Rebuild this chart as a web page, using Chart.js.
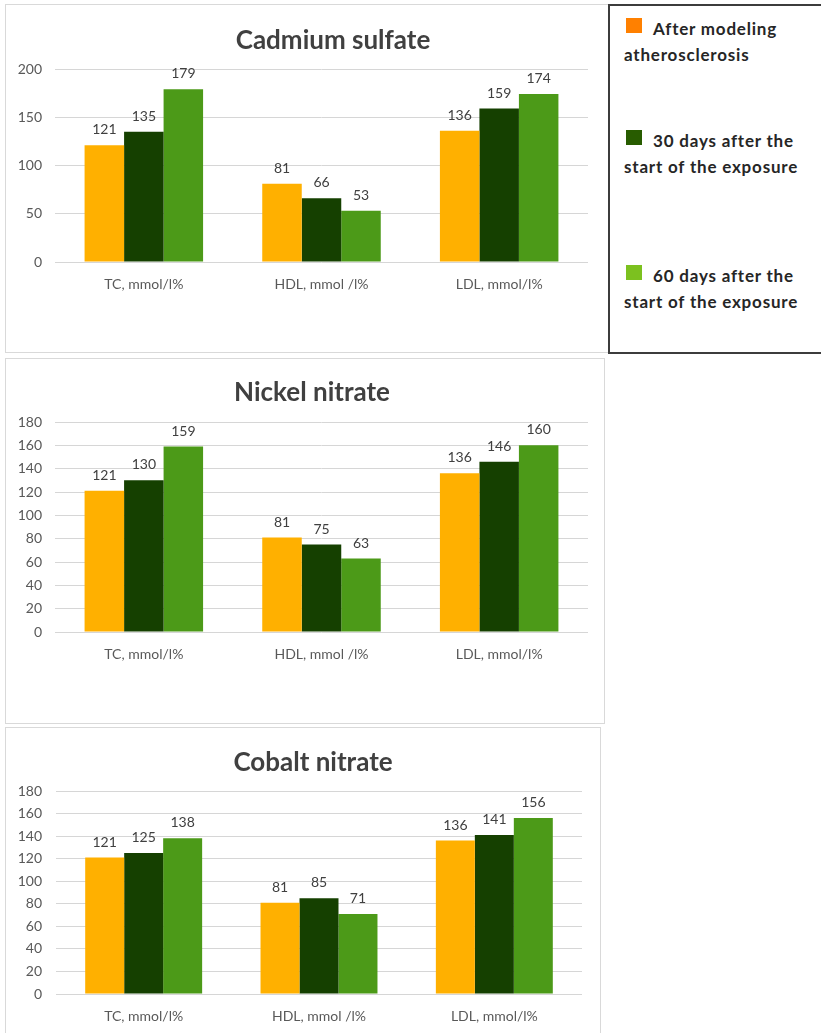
<!DOCTYPE html>
<html>
<head>
<meta charset="utf-8">
<script src="https://cdn.jsdelivr.net/npm/chart.js@4.4.1/dist/chart.umd.min.js"></script>
<style>
  body { margin: 0; background: #fff; font-family: Lato, sans-serif; }
  .panel { position: absolute; border: 1px solid #d9d9d9; background: #fff; }
  .panel canvas { display: block; }
  #p1 { left: 5px; top: 4px; }
  #p2 { left: 5px; top: 358px; }
  #p3 { left: 5px; top: 727px; }
  #legend {
    position: absolute; left: 608px; top: 4px; width: 230px; height: 346px;
    border: 2px solid #3c3c3c; background: #fff;
  }
  .item {
    position: absolute; left: 14px; width: 210px;
    font-size: 17px; font-weight: bold; line-height: 26px; color: #262626;
    text-indent: 29px; letter-spacing: 0.8px; white-space: nowrap;
  }
  .swatch { position: absolute; left: 2px; top: 2px; width: 16px; height: 15px; }
</style>
</head>
<body>
<div class="panel" id="p1"><canvas id="cadmium" width="602" height="347"></canvas></div>
<div class="panel" id="p2"><canvas id="nickel" width="598" height="364"></canvas></div>
<div class="panel" id="p3"><canvas id="cobalt" width="594" height="320"></canvas></div>
<div id="legend"></div>

<script>
// categories and series
const categories = ["TC, mmol/l%", "HDL, mmol /l%", "LDL, mmol/l%"];
const seriesNames = [
  "After modeling atherosclerosis",
  "30 days after the start of the exposure",
  "60 days after the start of the exposure",
];
const barColors = ["#ffb000", "#154000", "#4c9a18"];
const legendColors = ["#ff8000", "#285c00", "#7cc11f"];

// Cadmium sulfate
const cadmiumBase = [121, 81, 136];
const cadmium30 = [135, 66, 159];
const cadmium60 = [179, 53, 174];

// Nickel nitrate
const nickelBase = [121, 81, 136];
const nickel30 = [130, 75, 146];
const nickel60 = [159, 63, 160];

// Cobalt nitrate
const cobaltBase = [121, 81, 136];
const cobalt30 = [125, 85, 141];
const cobalt60 = [138, 71, 156];

// y axis ticks
const cadmiumTicks = [0, 50, 100, 150, 200];
const nitrateTicks = [0, 20, 40, 60, 80, 100, 120, 140, 160, 180];

// value above each bar
const valueLabels = {
  id: "valueLabels",
  afterDatasetsDraw(chart) {
    const ctx = chart.ctx;
    ctx.save();
    ctx.font = "14px Lato";
    ctx.fillStyle = "#404040";
    ctx.textAlign = "center";
    ctx.textBaseline = "alphabetic";
    chart.data.datasets.forEach((ds, i) => {
      chart.getDatasetMeta(i).data.forEach((bar, j) => {
        ctx.fillText(ds.data[j], bar.x, bar.y - 11);
      });
    });
    ctx.restore();
  },
};

// chart title at a fixed spot
const panelTitle = {
  id: "panelTitle",
  afterDraw(chart, args, opts) {
    const ctx = chart.ctx;
    ctx.save();
    ctx.font = "bold 26px Lato";
    ctx.fillStyle = "#404040";
    ctx.textAlign = "center";
    ctx.textBaseline = "alphabetic";
    ctx.fillText(opts.text, opts.x, opts.y);
    ctx.restore();
  },
};

function makeChart(id, title, series, ticks, box) {
  const max = ticks[ticks.length - 1];
  const step = ticks[1] - ticks[0];
  new Chart(document.getElementById(id), {
    type: "bar",
    data: {
      labels: categories,
      datasets: series.map((data, i) => ({
        label: seriesNames[i],
        data: data,
        backgroundColor: barColors[i],
        borderWidth: 0,
        categoryPercentage: 0.667,
        barPercentage: 1.0,
      })),
    },
    options: {
      responsive: false,
      animation: false,
      devicePixelRatio: 1,
      layout: { padding: { top: box.top, right: box.right, bottom: box.bottom, left: 0 } },
      plugins: {
        legend: { display: false },
        tooltip: { enabled: false },
        panelTitle: { text: title, x: box.titleX, y: box.titleY },
      },
      scales: {
        x: {
          grid: { display: false },
          border: { display: false },
          ticks: { color: "#595959", font: { family: "Lato", size: 14 }, padding: 6 },
          afterFit: (scale) => { scale.height = 40; },
        },
        y: {
          min: 0,
          max: max,
          ticks: {
            stepSize: step,
            color: "#595959",
            font: { family: "Lato", size: 14 },
            padding: box.tickPad,
          },
          grid: { color: "#d6d6d6", lineWidth: 1, drawTicks: false },
          border: { display: false },
          afterFit: (scale) => { scale.width = box.left; },
        },
      },
    },
    plugins: [valueLabels, panelTitle],
  });
}

makeChart("cadmium", "Cadmium sulfate", [cadmiumBase, cadmium30, cadmium60], cadmiumTicks,
  { top: 64, right: 20, bottom: 50, left: 49, tickPad: 13, titleX: 327, titleY: 44 });
makeChart("nickel", "Nickel nitrate", [nickelBase, nickel30, nickel60], nitrateTicks,
  { top: 63, right: 16, bottom: 51, left: 49, tickPad: 13, titleX: 306, titleY: 42 });
makeChart("cobalt", "Cobalt nitrate", [cobaltBase, cobalt30, cobalt60], nitrateTicks,
  { top: 63, right: 18, bottom: 14, left: 50, tickPad: 14, titleX: 307, titleY: 43 });

// legend box on the right
const legendTops = [10, 122, 257];
const legend = document.getElementById("legend");
seriesNames.forEach((name, i) => {
  const item = document.createElement("div");
  item.className = "item";
  item.style.top = legendTops[i] + "px";
  const sw = document.createElement("span");
  sw.className = "swatch";
  sw.style.background = legendColors[i];
  item.appendChild(sw);
  const words = name.split(" ");
  const split = i === 0 ? 2 : 4;
  item.appendChild(document.createTextNode(words.slice(0, split).join(" ")));
  item.appendChild(document.createElement("br"));
  item.appendChild(document.createTextNode(words.slice(split).join(" ")));
  legend.appendChild(item);
});
</script>
</body>
</html>
